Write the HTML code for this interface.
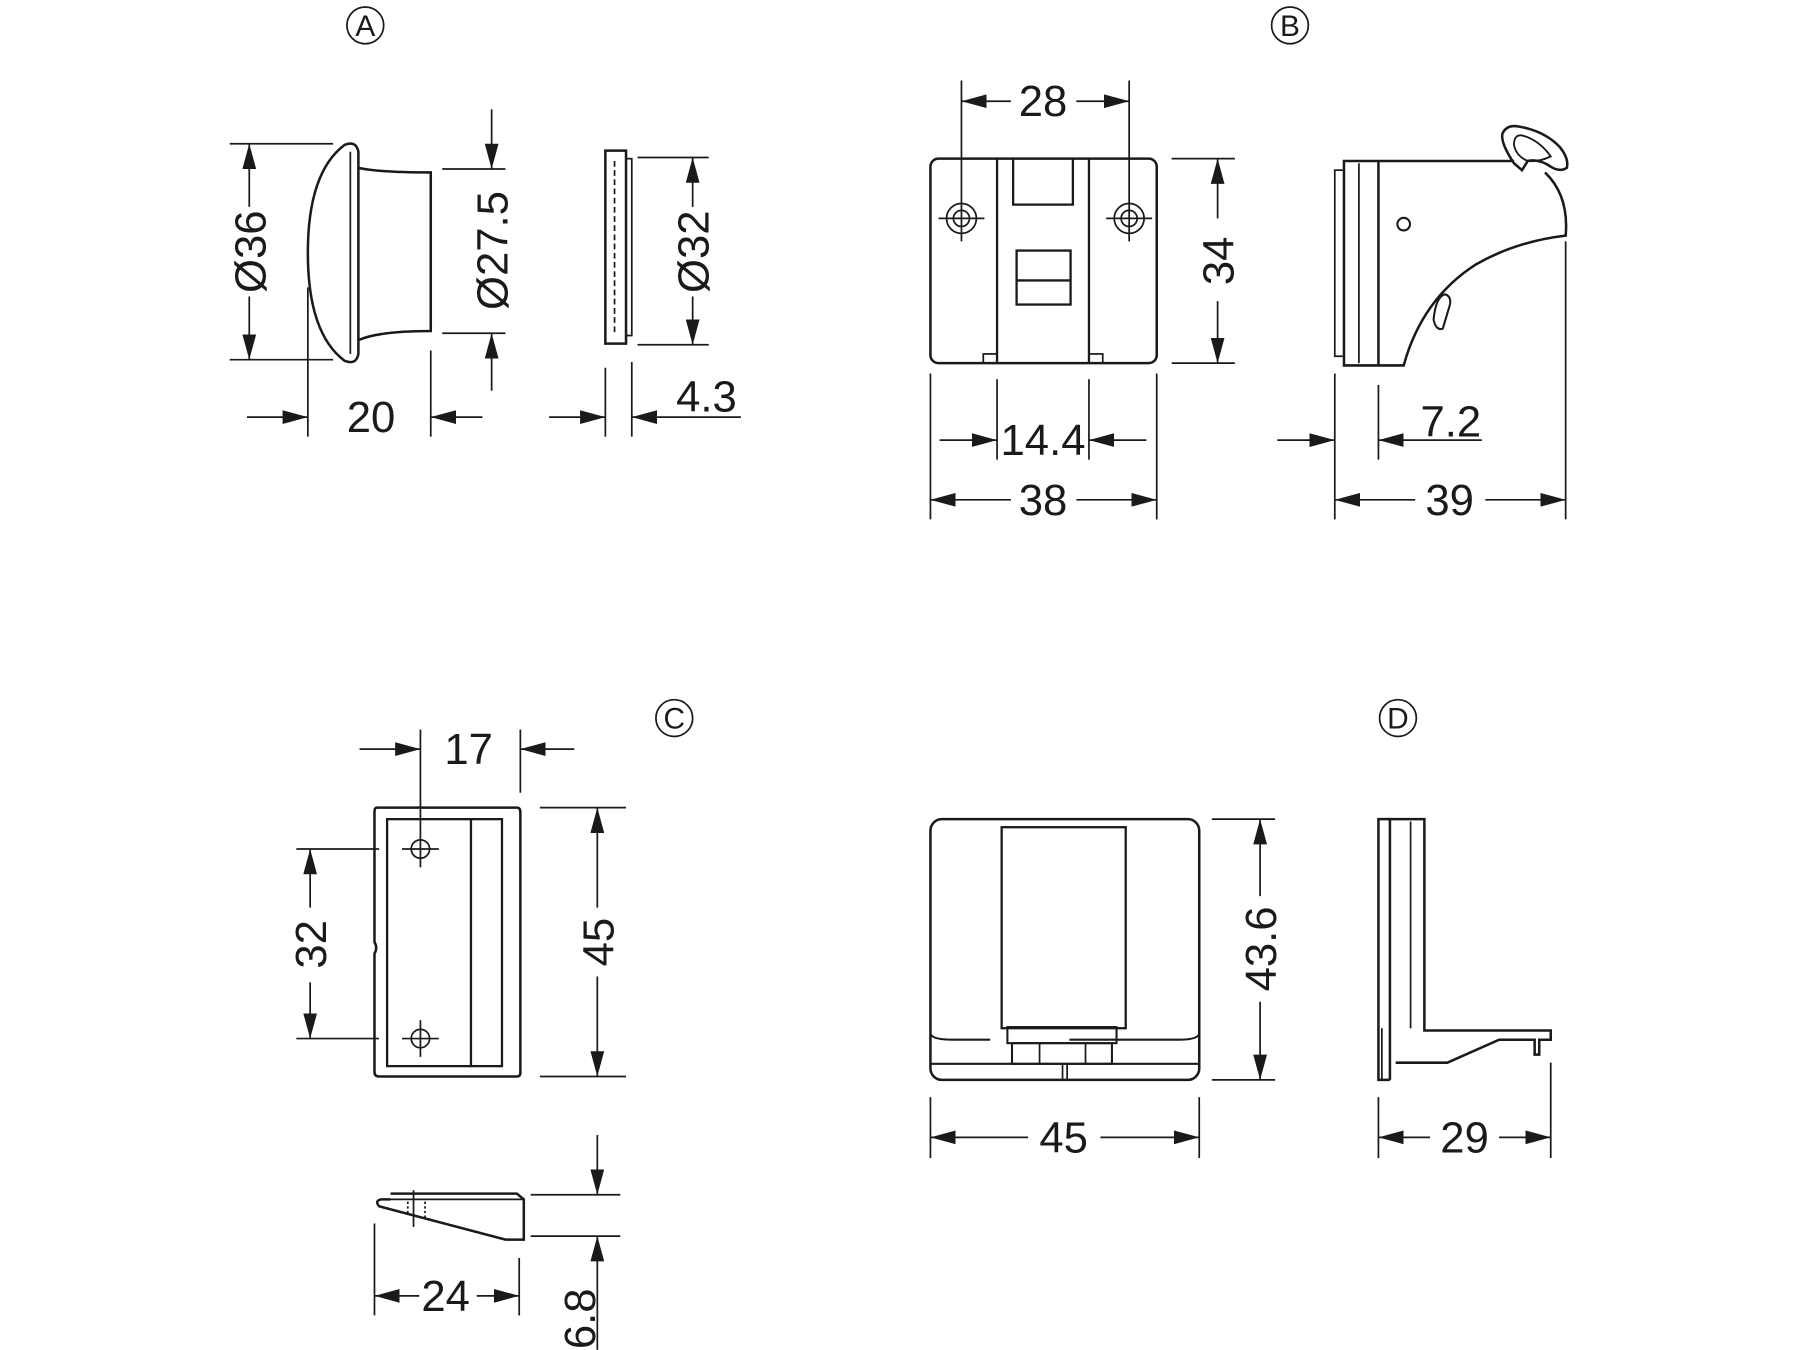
<!DOCTYPE html>
<html><head><meta charset="utf-8"><style>
html,body{margin:0;padding:0;background:#fff;width:1800px;height:1350px;overflow:hidden}
svg{display:block}
text{font-family:"Liberation Sans",sans-serif;fill:#1a1a1a}
</style></head><body>
<svg width="1800" height="1350" viewBox="0 0 1567 1175" xmlns="http://www.w3.org/2000/svg">
<defs>
<marker id="a" markerUnits="userSpaceOnUse" markerWidth="22" markerHeight="12" refX="22" refY="6" orient="auto">
<path d="M0,0 L22,6 L0,12 z" fill="#1a1a1a"/></marker>
</defs>
<g stroke="#1a1a1a" fill="none" stroke-width="1.5">
<!-- ===== A ===== -->
<circle cx="318" cy="22" r="16"/>
<path d="M300,126 Q268,150 268,220 Q268,290 300,314 Q310,318 312,308 L312,132 Q310,122 300,126 Z" stroke-width="2.2"/>
<line x1="305" y1="132" x2="305" y2="308"/>
<path d="M312,146 Q330,150 375,150 L375,288 Q330,288 312,296" stroke-width="2.2"/>
<line x1="200" y1="125" x2="290" y2="125"/><line x1="200" y1="313" x2="290" y2="313"/>
<line x1="217" y1="180" x2="217" y2="125" marker-end="url(#a)"/>
<line x1="217" y1="258" x2="217" y2="313" marker-end="url(#a)"/>
<line x1="385" y1="147" x2="440" y2="147"/><line x1="385" y1="290" x2="440" y2="290"/>
<line x1="428" y1="95" x2="428" y2="147" marker-end="url(#a)"/>
<line x1="428" y1="340" x2="428" y2="290" marker-end="url(#a)"/>
<line x1="268" y1="250" x2="268" y2="380"/><line x1="375" y1="305" x2="375" y2="380"/>
<line x1="215" y1="363" x2="268" y2="363" marker-end="url(#a)"/>
<line x1="420" y1="363" x2="375" y2="363" marker-end="url(#a)"/>
<rect x="527" y="131" width="18" height="168" stroke-width="2.2"/>
<rect x="545" y="138" width="5" height="154"/>
<line x1="535" y1="140" x2="535" y2="292" stroke-dasharray="5,3"/>
<line x1="555" y1="137" x2="617" y2="137"/><line x1="555" y1="300" x2="617" y2="300"/>
<line x1="603" y1="180" x2="603" y2="137" marker-end="url(#a)"/>
<line x1="603" y1="258" x2="603" y2="300" marker-end="url(#a)"/>
<line x1="527" y1="320" x2="527" y2="380"/><line x1="550" y1="315" x2="550" y2="380"/>
<line x1="478" y1="363" x2="527" y2="363" marker-end="url(#a)"/>
<line x1="645" y1="363" x2="550" y2="363" marker-end="url(#a)"/>

<!-- ===== B ===== -->
<circle cx="1123" cy="22" r="16"/>
<rect x="810" y="138" width="197" height="178" rx="7" stroke-width="2.2"/>
<line x1="868" y1="138" x2="868" y2="316" stroke-width="2"/>
<line x1="948" y1="138" x2="948" y2="316" stroke-width="2"/>
<path d="M882,138 L882,178 L934,178 L934,138" stroke-width="2"/>
<rect x="885" y="218" width="47" height="47" stroke-width="2"/>
<line x1="885" y1="244" x2="932" y2="244" stroke-width="2"/>
<rect x="856" y="308" width="12" height="8"/><rect x="948" y="308" width="12" height="8"/>
<circle cx="837" cy="190" r="13"/><circle cx="837" cy="190" r="7"/>
<circle cx="983" cy="190" r="13"/><circle cx="983" cy="190" r="7"/>
<line x1="817" y1="190" x2="857" y2="190"/><line x1="963" y1="190" x2="1003" y2="190"/>
<line x1="837" y1="70" x2="837" y2="210"/><line x1="983" y1="70" x2="983" y2="210"/>
<line x1="880" y1="88" x2="837" y2="88" marker-end="url(#a)"/>
<line x1="937" y1="88" x2="983" y2="88" marker-end="url(#a)"/>
<line x1="1020" y1="138" x2="1075" y2="138"/><line x1="1020" y1="316" x2="1075" y2="316"/>
<line x1="1060" y1="190" x2="1060" y2="138" marker-end="url(#a)"/>
<line x1="1060" y1="262" x2="1060" y2="316" marker-end="url(#a)"/>
<line x1="868" y1="330" x2="868" y2="400"/><line x1="948" y1="330" x2="948" y2="400"/>
<line x1="818" y1="383" x2="868" y2="383" marker-end="url(#a)"/>
<line x1="998" y1="383" x2="948" y2="383" marker-end="url(#a)"/>
<line x1="810" y1="325" x2="810" y2="452"/><line x1="1007" y1="325" x2="1007" y2="452"/>
<line x1="880" y1="435" x2="810" y2="435" marker-end="url(#a)"/>
<line x1="937" y1="435" x2="1007" y2="435" marker-end="url(#a)"/>
<!-- B side -->
<rect x="1162" y="148" width="8" height="162"/>
<line x1="1183" y1="142" x2="1183" y2="316"/>
<path d="M1318,140 L1170,140 L1170,318 L1222,318 Q1238,260 1285,230 Q1320,210 1363,205 Q1366,170 1345,150" stroke-width="2.2"/>
<line x1="1200" y1="140" x2="1200" y2="318" stroke-width="2.2"/>
<path d="M1318,142 Q1306,124 1308,116 Q1312,108 1322,110 Q1345,114 1358,128 Q1366,138 1364,146 Q1358,150 1350,145 Q1340,138 1330,140 L1325,148 Z" stroke-width="2.2"/>
<path d="M1318,126 Q1318,116 1326,118 Q1340,122 1350,136 Q1340,141 1330,140 Q1320,136 1318,126 Z" stroke-width="1.6"/>
<circle cx="1222" cy="195" r="5.5" stroke-width="1.8"/>
<path d="M1248,278 Q1250,258 1258,256 Q1264,258 1262,266 L1256,286 Q1250,288 1248,278 Z" stroke-width="1.8"/>
<line x1="1162" y1="325" x2="1162" y2="452"/><line x1="1200" y1="335" x2="1200" y2="400"/>
<line x1="1363" y1="210" x2="1363" y2="452"/>
<line x1="1112" y1="383" x2="1162" y2="383" marker-end="url(#a)"/>
<line x1="1290" y1="383" x2="1200" y2="383" marker-end="url(#a)"/>
<line x1="1232" y1="435" x2="1162" y2="435" marker-end="url(#a)"/>
<line x1="1293" y1="435" x2="1363" y2="435" marker-end="url(#a)"/>

<!-- ===== C ===== -->
<circle cx="587" cy="625" r="16"/>
<path d="M328,703 L450,703 Q453,703 453,707 L453,934 Q453,937 450,937 L330,937 Q326,937 326,933 L326,830 Q329,825 326,820 L326,707 Q326,703 328,703 Z" stroke-width="2.2"/>
<rect x="337" y="713" width="100" height="215" stroke-width="2"/>
<line x1="410" y1="713" x2="410" y2="928" stroke-width="2"/>
<circle cx="366" cy="739" r="8"/><circle cx="366" cy="904" r="8"/>
<line x1="350" y1="739" x2="382" y2="739"/><line x1="350" y1="904" x2="382" y2="904"/>
<line x1="366" y1="635" x2="366" y2="755"/><line x1="366" y1="888" x2="366" y2="920"/>
<line x1="453" y1="635" x2="453" y2="690"/>
<line x1="313" y1="652" x2="366" y2="652" marker-end="url(#a)"/>
<line x1="500" y1="652" x2="453" y2="652" marker-end="url(#a)"/>
<line x1="258" y1="739" x2="330" y2="739"/><line x1="258" y1="904" x2="330" y2="904"/>
<line x1="270" y1="790" x2="270" y2="739" marker-end="url(#a)"/>
<line x1="270" y1="855" x2="270" y2="904" marker-end="url(#a)"/>
<line x1="470" y1="703" x2="545" y2="703"/><line x1="470" y1="937" x2="545" y2="937"/>
<line x1="520" y1="790" x2="520" y2="703" marker-end="url(#a)"/>
<line x1="520" y1="850" x2="520" y2="937" marker-end="url(#a)"/>
<path d="M340,1039 L450,1039 L456,1044 L456,1079 L440,1079 L330,1050 Q326,1045 332,1044 L340,1044" stroke-width="2.2"/>
<line x1="340" y1="1044" x2="456" y2="1044"/>
<line x1="360" y1="1036" x2="360" y2="1068"/>
<line x1="355" y1="1046" x2="355" y2="1056" stroke-dasharray="2,2"/>
<line x1="370" y1="1046" x2="370" y2="1060" stroke-dasharray="2,2"/>
<line x1="326" y1="1065" x2="326" y2="1145"/><line x1="452" y1="1095" x2="452" y2="1145"/>
<line x1="365" y1="1128" x2="326" y2="1128" marker-end="url(#a)"/>
<line x1="415" y1="1128" x2="452" y2="1128" marker-end="url(#a)"/>
<line x1="462" y1="1040" x2="540" y2="1040"/><line x1="462" y1="1076" x2="540" y2="1076"/>
<line x1="520" y1="988" x2="520" y2="1040" marker-end="url(#a)"/>
<line x1="520" y1="1175" x2="520" y2="1076" marker-end="url(#a)"/>

<!-- ===== D ===== -->
<circle cx="1217" cy="625" r="16"/>
<rect x="810" y="713" width="234" height="227" rx="10" stroke-width="2.2"/>
<rect x="872" y="720" width="108" height="175" stroke-width="2"/>
<path d="M810,900 Q812,905 830,905 L862,905 M931,905 L1026,905 Q1042,905 1044,900" stroke-width="1.8"/>
<line x1="810" y1="926" x2="1044" y2="926" stroke-width="1.8"/>
<rect x="877" y="894" width="95" height="14" stroke-width="1.8"/>
<rect x="881" y="908" width="87" height="18" stroke-width="1.8"/>
<line x1="905" y1="908" x2="905" y2="926"/><line x1="945" y1="908" x2="945" y2="926"/>
<line x1="925" y1="926" x2="925" y2="940"/><line x1="929" y1="926" x2="929" y2="940"/>
<line x1="1055" y1="713" x2="1110" y2="713"/><line x1="1055" y1="940" x2="1110" y2="940"/>
<line x1="1097" y1="780" x2="1097" y2="713" marker-end="url(#a)"/>
<line x1="1097" y1="872" x2="1097" y2="940" marker-end="url(#a)"/>
<line x1="810" y1="955" x2="810" y2="1008"/><line x1="1044" y1="955" x2="1044" y2="1008"/>
<line x1="895" y1="990" x2="810" y2="990" marker-end="url(#a)"/>
<line x1="958" y1="990" x2="1044" y2="990" marker-end="url(#a)"/>
<path d="M1210,940 L1210,713 L1240,713 L1240,897 L1350,897 L1350,905 L1340,905 L1340,918 L1336,918 L1336,905 L1305,905 L1260,925 L1215,925" stroke-width="2.2"/>
<line x1="1228" y1="715" x2="1228" y2="895"/>
<path d="M1210,940 L1200,940 L1200,713 L1210,713" stroke-width="2.2"/>
<line x1="1203" y1="895" x2="1203" y2="940"/>
<line x1="1200" y1="955" x2="1200" y2="1008"/><line x1="1350" y1="925" x2="1350" y2="1008"/>
<line x1="1245" y1="990" x2="1200" y2="990" marker-end="url(#a)"/>
<line x1="1305" y1="990" x2="1350" y2="990" marker-end="url(#a)"/>
</g>
<g font-size="38">
<text x="318" y="31" text-anchor="middle" font-size="26">A</text>
<text x="1123" y="31" text-anchor="middle" font-size="26">B</text>
<text x="587" y="634" text-anchor="middle" font-size="26">C</text>
<text x="1217" y="634" text-anchor="middle" font-size="26">D</text>
<text transform="translate(231,219) rotate(-90)" text-anchor="middle">Ø36</text>
<text transform="translate(442,218) rotate(-90)" text-anchor="middle">Ø27.5</text>
<text transform="translate(617,219) rotate(-90)" text-anchor="middle">Ø32</text>
<text x="323" y="376" text-anchor="middle">20</text>
<text x="615" y="358" text-anchor="middle">4.3</text>
<text x="908" y="101" text-anchor="middle">28</text>
<text transform="translate(1074,227) rotate(-90)" text-anchor="middle">34</text>
<text x="908" y="396" text-anchor="middle">14.4</text>
<text x="908" y="448" text-anchor="middle">38</text>
<text x="1263" y="380" text-anchor="middle">7.2</text>
<text x="1262" y="448" text-anchor="middle">39</text>
<text x="408" y="665" text-anchor="middle">17</text>
<text transform="translate(284,822) rotate(-90)" text-anchor="middle">32</text>
<text transform="translate(534,820) rotate(-90)" text-anchor="middle">45</text>
<text x="388" y="1141" text-anchor="middle">24</text>
<text transform="translate(518,1148) rotate(-90)" text-anchor="middle">6.8</text>
<text x="926" y="1003" text-anchor="middle">45</text>
<text transform="translate(1111,826) rotate(-90)" text-anchor="middle">43.6</text>
<text x="1275" y="1003" text-anchor="middle">29</text>
</g>
</svg>
</body></html>
